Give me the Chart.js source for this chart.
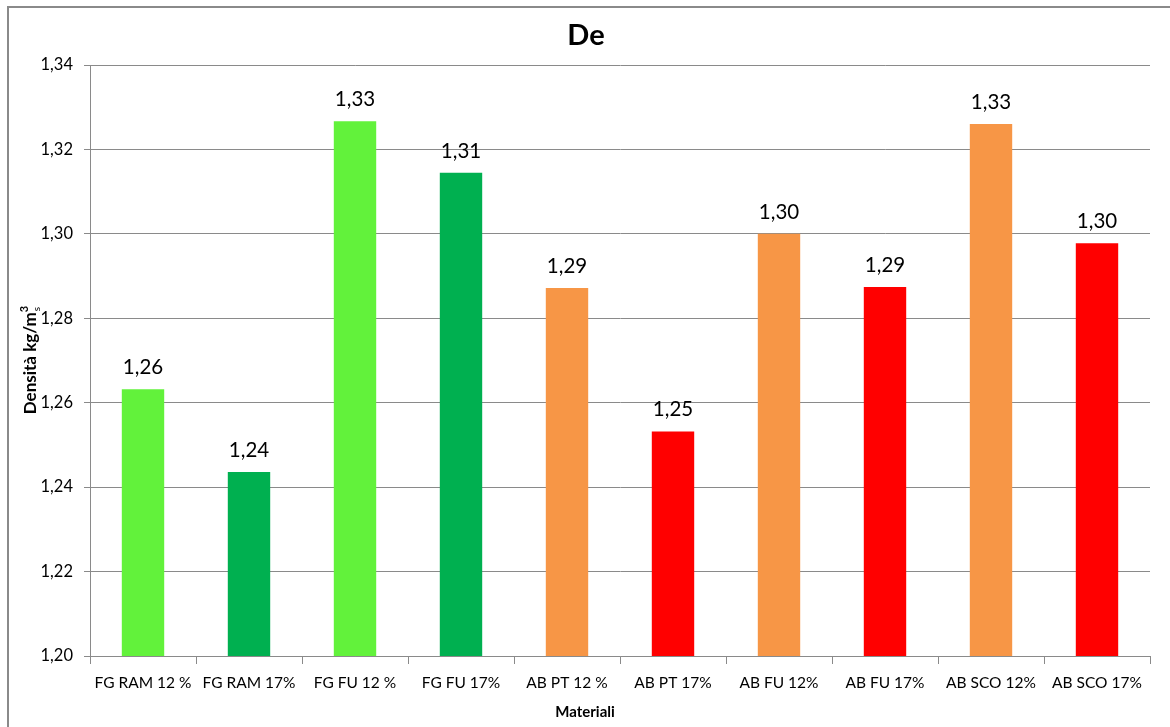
<!DOCTYPE html>
<html>
<head>
<meta charset="utf-8">
<script src="https://cdn.jsdelivr.net/npm/chart.js@4.4.1/dist/chart.umd.min.js"></script>
<style>
  html, body { margin: 0; padding: 0; background: #ffffff; }
  #wrap { position: relative; width: 1170px; height: 727px; }
</style>
</head>
<body>
<div id="wrap"><canvas id="c" width="1170" height="727"></canvas></div>
<script>
// Materials tested and their density values
const categories = ['FG RAM 12 %', 'FG RAM 17%', 'FG FU 12 %', 'FG FU 17%', 'AB PT 12 %',
                    'AB PT 17%', 'AB FU 12%', 'AB FU 17%', 'AB SCO 12%', 'AB SCO 17%'];
const densities = [1.2632, 1.2436, 1.3267, 1.3145, 1.2872, 1.2532, 1.3000, 1.2874, 1.3260, 1.2978];
const barColors = ['#62F23B', '#00B050', '#62F23B', '#00B050', '#F79646',
                   '#FF0000', '#F79646', '#FF0000', '#F79646', '#FF0000'];
const yTicks = [1.20, 1.22, 1.24, 1.26, 1.28, 1.30, 1.32, 1.34];

const FONT = 'Lato, "Liberation Sans", sans-serif';
const fmt = v => v.toFixed(2).replace('.', ',');

// Frame, title, axis titles and value labels
const decorations = {
  id: 'decorations',
  beforeDraw(chart) {
    const ctx = chart.ctx;
    ctx.save();
    ctx.fillStyle = '#ffffff';
    ctx.fillRect(0, 0, chart.width, chart.height);
    ctx.strokeStyle = '#8a8a8a';
    ctx.lineWidth = 2;
    ctx.strokeRect(8, 7, 1300, 900);
    ctx.restore();
  },
  afterDraw(chart) {
    const ctx = chart.ctx;
    const area = chart.chartArea;
    ctx.save();
    // Title
    ctx.fillStyle = '#000';
    ctx.font = 'bold 29px ' + FONT;
    ctx.textAlign = 'center';
    ctx.textBaseline = 'middle';
    ctx.fillText('De', 586, 36);

    // X axis title
    ctx.font = 'bold 15px ' + FONT;
    ctx.fillText('Materiali', 585, 712);

    // Y axis title with superscript and subscript
    ctx.translate(31, 359);
    ctx.rotate(-Math.PI / 2);
    ctx.textBaseline = 'middle';
    ctx.textAlign = 'left';
    const main = 'Densità kg/m';
    ctx.font = 'bold 17px ' + FONT;
    const wMain = ctx.measureText(main).width;
    ctx.font = 'bold 11px ' + FONT;
    const wSup = ctx.measureText('3').width;
    const total = wMain + wSup + 2;
    let x = -total / 2;
    ctx.font = 'bold 17px ' + FONT;
    ctx.fillText(main, x, 0);
    x += wMain;
    ctx.font = 'bold 11px ' + FONT;
    ctx.fillText('3', x, -7);
    ctx.font = '10px ' + FONT;
    ctx.fillText('s', x + 1, 6);
    ctx.restore();

    // Value labels above bars
    ctx.save();
    ctx.font = '20.5px ' + FONT;
    ctx.fillStyle = '#000';
    ctx.textAlign = 'center';
    ctx.textBaseline = 'alphabetic';
    const meta = chart.getDatasetMeta(0);
    meta.data.forEach((bar, i) => {
      ctx.fillText(fmt(densities[i]), bar.x, bar.y - 15);
    });
    ctx.restore();
  }
};

new Chart(document.getElementById('c'), {
  type: 'bar',
  data: {
    labels: categories,
    datasets: [{
      data: densities,
      backgroundColor: barColors,
      borderWidth: 0,
      categoryPercentage: 1.0,
      barPercentage: 0.4
    }]
  },
  options: {
    responsive: false,
    animation: false,
    layout: { padding: { left: 0, top: 65, right: 20, bottom: 0 } },
    plugins: {
      legend: { display: false },
      title: { display: false },
      tooltip: { enabled: false }
    },
    scales: {
      y: {
        min: 1.20,
        max: 1.34,
        afterFit(scale) { scale.width = 90; },
        afterBuildTicks(scale) { scale.ticks = yTicks.map(v => ({ value: v })); },
        border: { display: true, color: '#8a8a8a', width: 1 },
        grid: { color: '#8a8a8a', lineWidth: 1, drawTicks: true, tickLength: 6 },
        ticks: {
          color: '#000',
          font: { family: FONT, size: 16.5 },
          padding: 11,
          callback: v => fmt(v)
        }
      },
      x: {
        afterFit(scale) { scale.height = 71; },
        border: { display: true, color: '#8a8a8a', width: 1 },
        grid: { offset: true, drawOnChartArea: false, drawTicks: true, tickLength: 8, color: '#8a8a8a' },
        ticks: {
          color: '#000',
          font: { family: FONT, size: 15.5 },
          padding: 10,
          maxRotation: 0,
          autoSkip: false
        }
      }
    }
  },
  plugins: [decorations]
});
</script>
</body>
</html>
